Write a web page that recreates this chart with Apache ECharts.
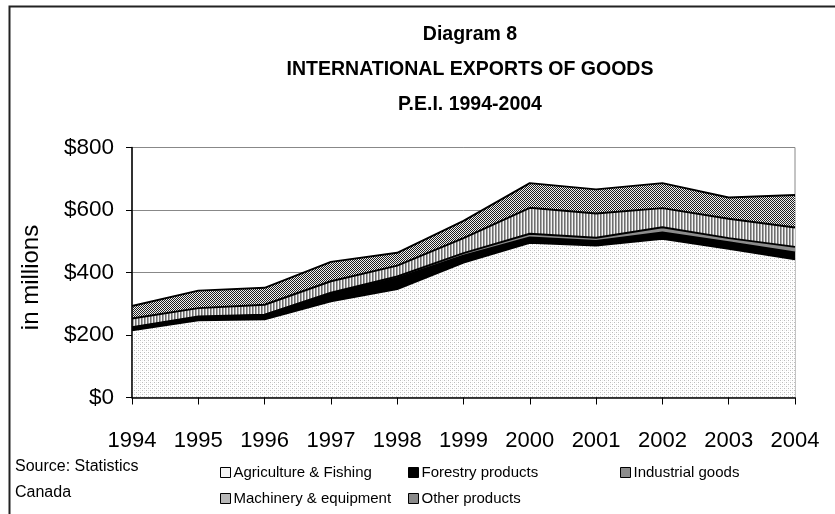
<!DOCTYPE html>
<html>
<head>
<meta charset="utf-8">
<script src="https://cdn.jsdelivr.net/npm/echarts@6/dist/echarts.min.js"></script>
<style>
html,body{margin:0;padding:0;background:#fff;}
#chart{width:835px;height:514px;}
</style>
</head>
<body>
<div id="chart"></div>
<script>
const years = ['1994','1995','1996','1997','1998','1999','2000','2001','2002','2003','2004'];
const agriculture = [215, 247, 250, 308, 347, 432, 495, 486, 508, 476, 442];
const forestry    = [8, 10, 13, 24, 35, 22, 17, 15, 20, 21, 22];
const industrial  = [2, 2, 2, 3, 5, 8, 12, 10, 17, 13, 18];
const machinery   = [28, 27, 32, 37, 35, 48, 83, 78, 61, 62, 62];
const other       = [40, 56, 54, 62, 41, 55, 79, 77, 80, 68, 104];
const seriesNames = ['Agriculture & Fishing','Forestry products','Industrial goods','Machinery & equipment','Other products'];
const titleLines = ['Diagram 8','INTERNATIONAL EXPORTS OF GOODS','P.E.I. 1994-2004'];
const yTicks = [0, 200, 400, 600, 800];

function makePattern(w, h, painter) {
  const c = document.createElement('canvas');
  c.width = w; c.height = h;
  const ctx = c.getContext('2d');
  painter(ctx);
  return {image: c, repeat: 'repeat'};
}
const dotPattern = makePattern(4, 4, ctx => {
  ctx.fillStyle = '#ffffff'; ctx.fillRect(0,0,4,4);
  ctx.fillStyle = '#bcbcbc';
  ctx.fillRect(0,0,1,1); ctx.fillRect(2,2,1,1);
  ctx.fillStyle = '#ececec';
  ctx.fillRect(2,0,1,1); ctx.fillRect(0,2,1,1);
});
const stripePattern = makePattern(3, 3, ctx => {
  ctx.fillStyle = '#f4f4f4'; ctx.fillRect(0,0,3,3);
  ctx.fillStyle = '#6e6e6e'; ctx.fillRect(0,0,1,3);
  ctx.fillStyle = '#a8a8a8'; ctx.fillRect(1,0,1,3);
});
const checkPattern = makePattern(2, 2, ctx => {
  ctx.fillStyle = '#f0f0f0'; ctx.fillRect(0,0,2,2);
  ctx.fillStyle = '#1e1e1e';
  ctx.fillRect(0,0,1,1); ctx.fillRect(1,1,1,1);
});
const fills = [dotPattern, '#000000', '#8c8c8c', stripePattern, checkPattern];
const legendFills = ['#f4f4f4', '#000000', '#8c8c8c', '#b8b8b8', '#8a8a8a'];
const dataSets = [agriculture, forestry, industrial, machinery, other];

const FONT = '"Liberation Sans", Arial, sans-serif';

const series = dataSets.map((d, i) => ({
  name: seriesNames[i],
  type: 'line',
  stack: 'total',
  data: d,
  symbol: 'none',
  smooth: false,
  lineStyle: {color: '#000', width: 2},
  areaStyle: {color: fills[i], opacity: 1},
  itemStyle: {color: legendFills[i], borderColor: '#000', borderWidth: 1},
  emphasis: {disabled: true},
  z: 2
}));

const legendPos = [
  {left: 215, top: 460},
  {left: 403, top: 460},
  {left: 615, top: 460},
  {left: 215, top: 486},
  {left: 403, top: 486}
];
const legends = seriesNames.map((n, i) => ({
  left: legendPos[i].left,
  top: legendPos[i].top,
  orient: 'horizontal',
  icon: 'rect',
  itemWidth: 10,
  itemHeight: 10,
  itemGap: 4,
  selectedMode: false,
  data: [{name: n, itemStyle: {color: legendFills[i], borderColor: '#000', borderWidth: 1}}],
  textStyle: {fontFamily: FONT, fontSize: 15, color: '#000', padding: [0,0,0,-2]}
}));

const chart = echarts.init(document.getElementById('chart'), null, {renderer: 'canvas'});
chart.setOption({
  animation: false,
  backgroundColor: '#fff',
  title: titleLines.map((t, i) => ({
    text: t,
    left: 465,
    textAlign: 'center',
    top: 20 + i * 35,
    textStyle: {fontFamily: FONT, fontWeight: 'bold', fontSize: 19.5, color: '#000'}
  })),
  legend: legends,
  grid: {left: 132, right: 40, top: 147.5, bottom: 116.5, show: true, borderColor: '#888', borderWidth: 1},
  xAxis: {
    type: 'category',
    data: years,
    boundaryGap: false,
    axisLine: {lineStyle: {color: '#000', width: 1.5}},
    axisTick: {show: true, length: 7, inside: false, lineStyle: {color: '#000'}},
    axisLabel: {fontFamily: FONT, fontSize: 22, color: '#000', margin: 32},
    splitLine: {show: false},
    z: 5
  },
  yAxis: [
    {
      type: 'value',
      min: yTicks[0],
      max: yTicks[yTicks.length - 1],
      interval: 200,
      axisLine: {show: false},
      axisTick: {show: false},
      axisLabel: {show: false},
      splitLine: {show: true, lineStyle: {color: '#888', width: 1}},
      z: 0
    },
    {
      type: 'value',
      position: 'left',
      min: yTicks[0],
      max: yTicks[yTicks.length - 1],
      interval: 200,
      name: 'in millions',
      nameLocation: 'middle',
      nameGap: 89,
      nameTextStyle: {fontFamily: FONT, fontSize: 24, color: '#000', padding: [0, 10, 0, 0]},
      axisLine: {show: true, lineStyle: {color: '#000', width: 1.5}},
      axisTick: {show: true, length: 6, lineStyle: {color: '#000'}},
      axisLabel: {fontFamily: FONT, fontSize: 22.5, color: '#000', margin: 18, formatter: v => '$' + v},
      splitLine: {show: false},
      z: 5
    }
  ],
  graphic: [
    {type: 'polyline', shape: {points: [[9.5, 520], [9.5, 6.5], [840, 6.5]]}, style: {stroke: '#222', lineWidth: 2, fill: null}, silent: true},
    {type: 'text', left: 15, top: 459, style: {text: 'Source: Statistics', font: '16px "Liberation Sans", Arial, sans-serif', fill: '#000'}},
    {type: 'text', left: 15, top: 485, style: {text: 'Canada', font: '16px "Liberation Sans", Arial, sans-serif', fill: '#000'}}
  ],
  series: series
});
</script>
</body>
</html>
